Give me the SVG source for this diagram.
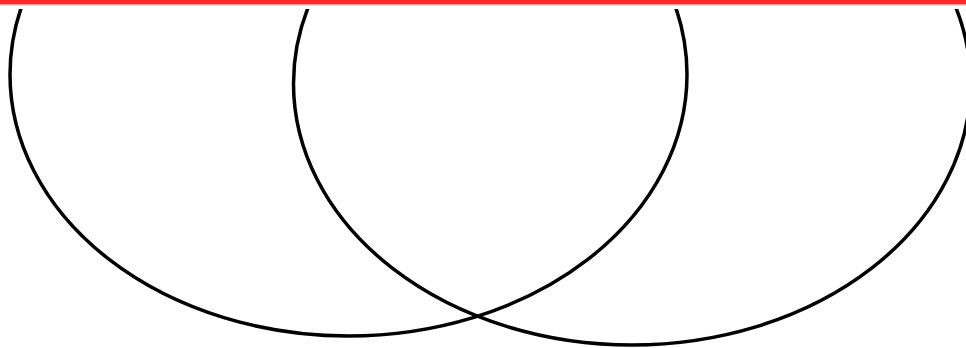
<svg xmlns="http://www.w3.org/2000/svg" width="966" height="348" viewBox="0 0 966 348">
  <style>
    .ring { fill: none; stroke: #000; stroke-width: 3.5; }
    .cut { stroke: #ff2b2b; stroke-width: 4.5; }
    .cut-edge { stroke: #ff9a9a; stroke-width: 1; }
  </style>
  <defs>
    <clipPath id="below">
      <rect x="0" y="9" width="966" height="339"/>
    </clipPath>
  </defs>
  <rect x="0" y="0" width="966" height="348" fill="#fff"/>
  <g id="shapes" clip-path="url(#below)">
    <ellipse id="left-ellipse" class="ring" cx="348.5" cy="74.5" rx="338.5" ry="261.5"/>
    <ellipse id="right-ellipse" class="ring" cx="632" cy="83.5" rx="338.5" ry="261.5"/>
  </g>
  <g id="top-line">
    <line class="cut" x1="0" y1="2.25" x2="966" y2="2.25"/>
    <line class="cut-edge" x1="0" y1="5" x2="966" y2="5"/>
  </g>
</svg>
